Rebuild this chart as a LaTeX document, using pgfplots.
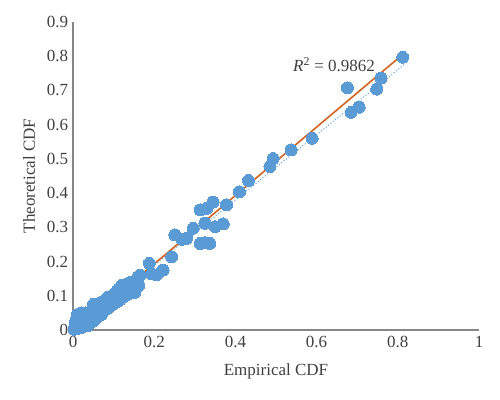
\documentclass[border=0pt]{standalone}
\usepackage{pgfplots}
\pgfplotsset{compat=1.18}
\usepackage{fontspec}
\setmainfont{Liberation Serif}
\definecolor{dotblue}{RGB}{91,155,213}
\definecolor{trend}{RGB}{207,100,35}
\definecolor{axgray}{RGB}{134,134,134}
\definecolor{txt}{RGB}{64,64,64}
\begin{document}
\begin{tikzpicture}
\useasboundingbox (-73pt,-69pt) rectangle (427pt,330pt);
\begin{axis}[
  scale only axis, width=406pt, height=308pt,
  xmin=0, xmax=1, ymin=0, ymax=0.9,
  axis x line=bottom, axis y line=left,
  axis line style={axgray, line width=1.2pt, -},
  xtick={0,0.2,0.4,0.6,0.8,1},
  ytick={0,0.1,0.2,0.3,0.4,0.5,0.6,0.7,0.8,0.9},
  major tick length=0pt,
  /pgf/number format/assume math mode=true,
  tick label style={font=\fontsize{17}{19}\selectfont, text=txt},
  xticklabel style={yshift=-2.5pt},
  yticklabel style={xshift=-1.3pt},
  xlabel={Empirical CDF},
  ylabel={Theoretical CDF},
  xlabel style={at={([yshift=-41pt]rel axis cs:0.5,0)}, anchor=center, font=\fontsize{17}{19}\selectfont, text=txt},
  ylabel style={at={([xshift=-44pt]rel axis cs:0,0.5)}, anchor=center, font=\fontsize{17}{19}\selectfont, text=txt},
  clip=false,
]
\addplot[dotblue, dotted, line width=1pt] coordinates {(0,0) (0.815,0.775)};
\addplot[trend, line width=1.6pt] coordinates {(0.007,0) (0.812,0.805)};
\addplot[only marks, dotblue, mark=*, mark size=6pt, mark options={fill=dotblue, draw=dotblue, line width=0pt}] coordinates {
(0.003,0.002) (0.005,0.010) (0.006,0.020) (0.008,0.030) (0.010,0.042) (0.012,0.005)
(0.015,0.015) (0.018,0.048) (0.020,0.028) (0.022,0.008) (0.025,0.038) (0.028,0.018)
(0.030,0.050) (0.033,0.025) (0.035,0.012) (0.038,0.040) (0.040,0.030) (0.042,0.020)
(0.045,0.055) (0.048,0.035) (0.050,0.075) (0.052,0.028) (0.055,0.045) (0.058,0.070)
(0.060,0.038) (0.062,0.060) (0.065,0.050) (0.068,0.080) (0.070,0.045) (0.072,0.065)
(0.075,0.058) (0.078,0.085) (0.080,0.060) (0.082,0.072) (0.085,0.095) (0.088,0.065)
(0.090,0.080) (0.092,0.070) (0.095,0.098) (0.098,0.075) (0.100,0.088) (0.102,0.078)
(0.105,0.110) (0.108,0.082) (0.110,0.095) (0.112,0.120) (0.115,0.088) (0.118,0.105)
(0.120,0.130) (0.122,0.095) (0.125,0.115) (0.128,0.100) (0.130,0.125) (0.132,0.135)
(0.135,0.105) (0.138,0.120) (0.140,0.112) (0.142,0.140) (0.145,0.118) (0.148,0.130)
(0.150,0.125) (0.152,0.110) (0.155,0.135) (0.158,0.140) (0.160,0.155) (0.162,0.130)
(0.010,0.045) (0.020,0.050) (0.030,0.046) (0.165,0.160)
(0.188,0.195) (0.194,0.164) (0.206,0.161) (0.222,0.175) (0.243,0.214)
(0.251,0.278) (0.268,0.265) (0.280,0.268) (0.296,0.297) (0.313,0.253)
(0.325,0.255) (0.337,0.253) (0.313,0.351) (0.329,0.355) (0.325,0.312)
(0.350,0.302) (0.370,0.310) (0.345,0.374) (0.378,0.366) (0.410,0.404)
(0.432,0.437) (0.485,0.478) (0.493,0.501) (0.537,0.526) (0.589,0.560)
(0.676,0.708) (0.685,0.636) (0.705,0.651) (0.748,0.704) (0.759,0.736)
(0.812,0.797)
};
\node[font=\fontsize{17}{19}\selectfont, text=txt] at (axis cs:0.643,0.775) {\textit{R}\textsuperscript{2} = 0.9862};
\end{axis}
\end{tikzpicture}
\end{document}
